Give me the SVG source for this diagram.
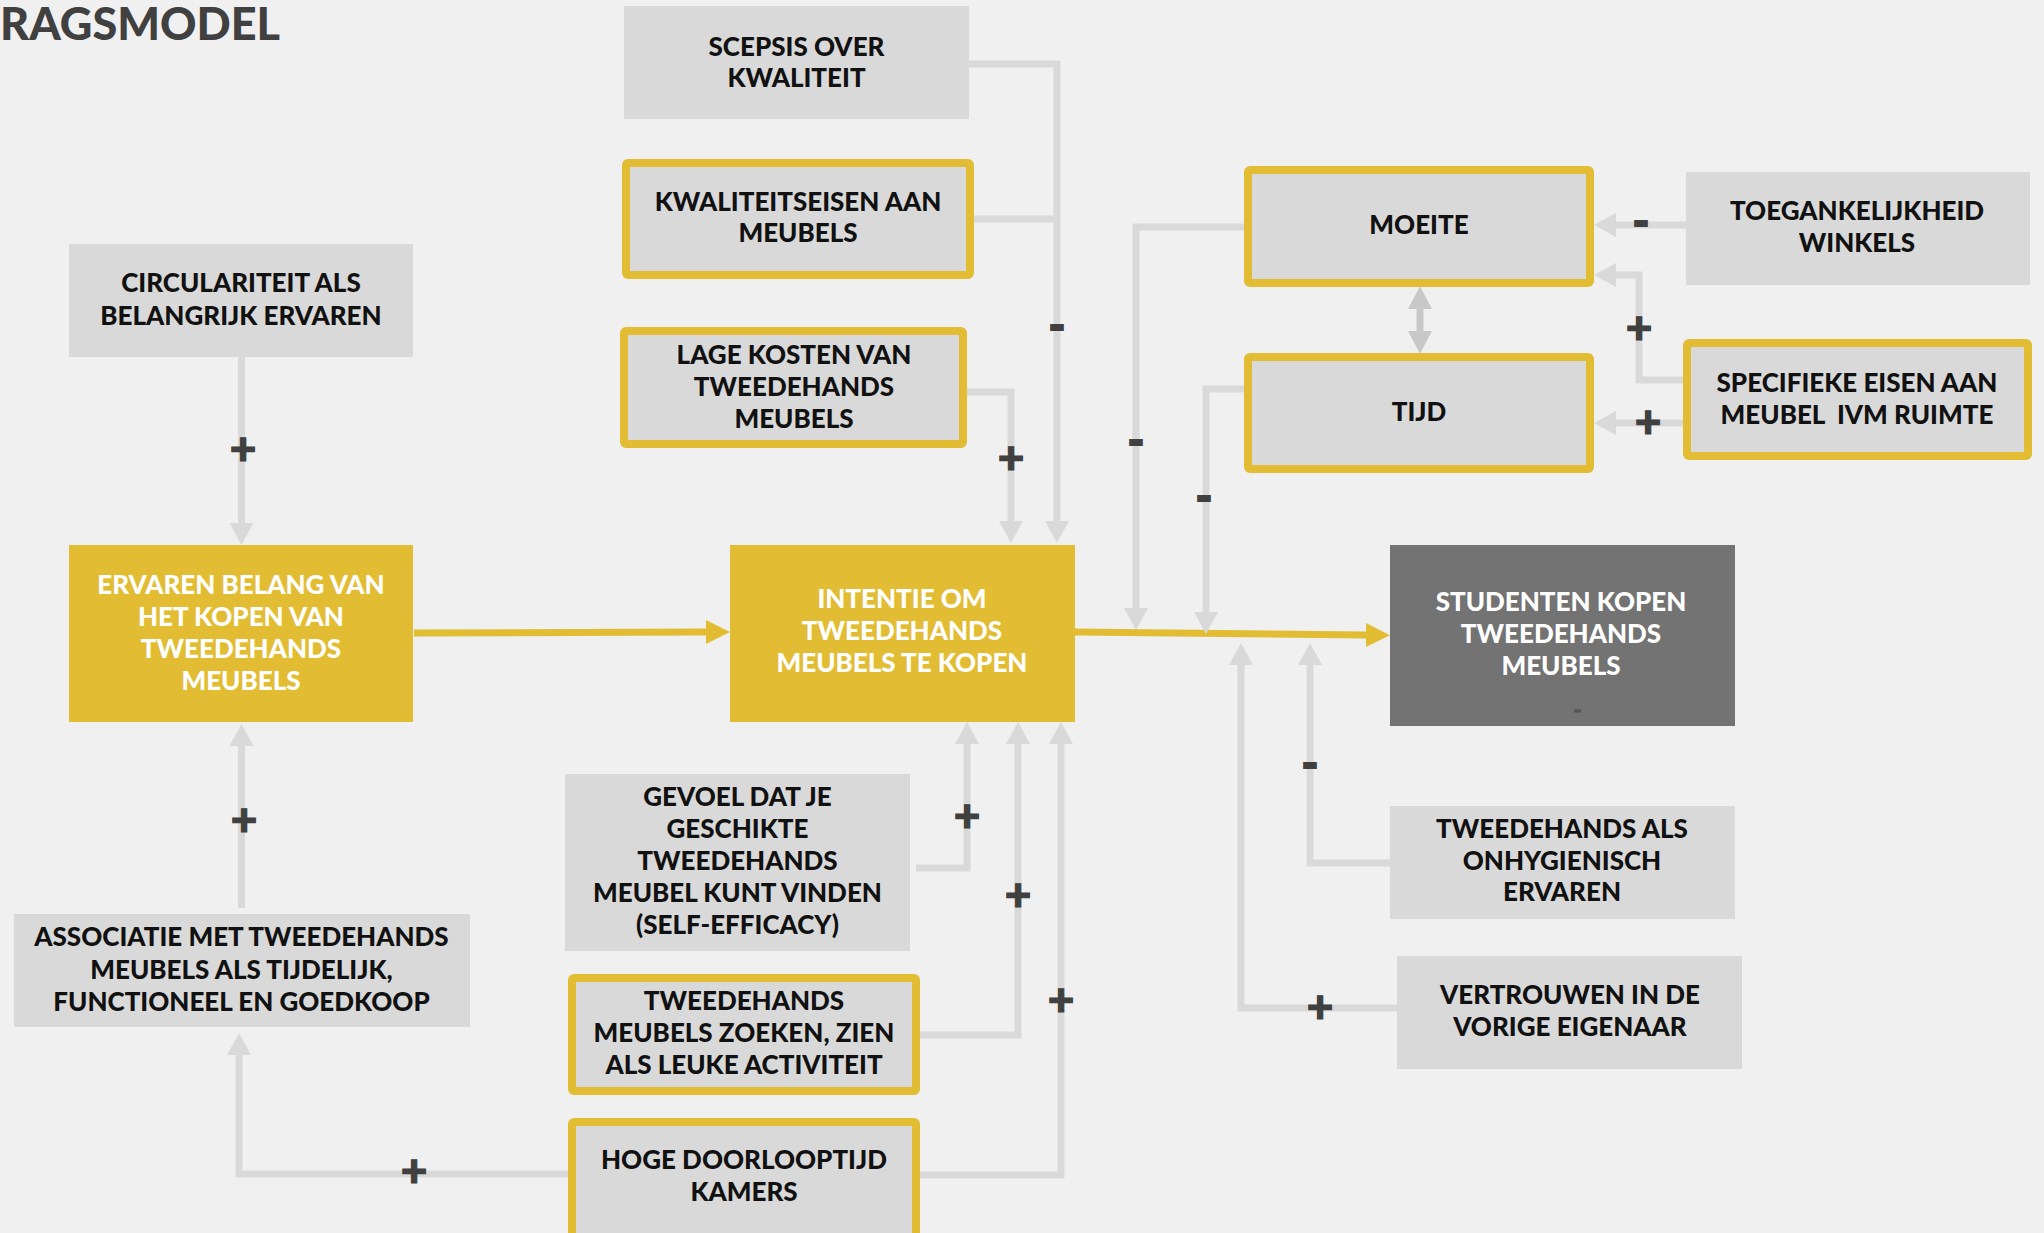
<svg xmlns="http://www.w3.org/2000/svg" width="2044" height="1233" viewBox="0 0 2044 1233">
  <style>
    .bg { fill: #f0f0f0; }
    .box { fill: #d9d9d9; }
    .box-y { fill: #d9d9d9; stroke: #e2bd33; stroke-width: 8; }
    .box-gold { fill: #e2bd33; }
    .box-dark { fill: #737373; }
    .t { font-family: Lato, "Open Sans", sans-serif; font-weight: 900; font-size: 26px; text-anchor: middle; fill: #111111; }
    .tw { fill: #ffffff; }
    .title { font-family: Lato, "Open Sans", sans-serif; font-weight: 900; font-size: 45px; fill: #404040; }
    .wire { fill: none; stroke: #d9d9d9; stroke-width: 7; stroke-linejoin: miter; }
    .wire-y { fill: none; stroke: #e2bd33; stroke-width: 7; }
    .wire-d { fill: none; stroke: #c8c8c8; stroke-width: 7; }
    .sign { font-family: Lato, "Open Sans", sans-serif; font-weight: 900; font-size: 46px; text-anchor: middle; fill: #404040; stroke: #404040; stroke-width: 1.2; }
    .minus { font-family: Lato, "Open Sans", sans-serif; font-weight: 900; font-size: 44px; text-anchor: middle; fill: #404040; stroke: #404040; stroke-width: 2; }
  </style>
  <defs>
    <marker id="ah" markerUnits="userSpaceOnUse" markerWidth="22" markerHeight="24" viewBox="0 0 22 24" refX="0" refY="12" orient="auto">
      <path d="M0,0 L22,12 L0,24 z" fill="#d9d9d9"/>
    </marker>
    <marker id="ahy" markerUnits="userSpaceOnUse" markerWidth="24" markerHeight="24" viewBox="0 0 24 24" refX="0" refY="12" orient="auto">
      <path d="M0,0 L24,12 L0,24 z" fill="#e2bd33"/>
    </marker>
    <marker id="ahd" markerUnits="userSpaceOnUse" markerWidth="23" markerHeight="24" viewBox="0 0 23 24" refX="0" refY="12" orient="auto-start-reverse">
      <path d="M0,0 L23,12 L0,24 z" fill="#c8c8c8"/>
    </marker>
  </defs>

  <rect class="bg" x="0" y="0" width="2044" height="1233"/>

  <text class="title" x="0" y="40">RAGSMODEL</text>

  <!-- connectors and their +/- signs -->
  <g id="connectors">
    <path class="wire" d="M241.5,357 V523" marker-end="url(#ah)"/>
    <path class="wire" d="M241.5,908 V746" marker-end="url(#ah)"/>
    <path class="wire" d="M568,1174 H239 V1055" marker-end="url(#ah)"/>
    <path class="wire-y" d="M414,633 L706,632" marker-end="url(#ahy)"/>
    <path class="wire-y" d="M1074,632 L1366,635" marker-end="url(#ahy)"/>
    <path class="wire" d="M969,64 H1057 V521" marker-end="url(#ah)"/>
    <path class="wire" d="M974,219 H1057"/>
    <path class="wire" d="M967,392 H1011 V521" marker-end="url(#ah)"/>
    <path class="wire" d="M916,868 H967 V744" marker-end="url(#ah)"/>
    <path class="wire" d="M920,1035 H1018 V744" marker-end="url(#ah)"/>
    <path class="wire" d="M920,1175 H1061 V744" marker-end="url(#ah)"/>
    <path class="wire" d="M1245,227 H1136 V608" marker-end="url(#ah)"/>
    <path class="wire" d="M1245,389 H1206 V612" marker-end="url(#ah)"/>
    <path class="wire" d="M1390,863 H1310 V665" marker-end="url(#ah)"/>
    <path class="wire" d="M1397,1008 H1241 V665" marker-end="url(#ah)"/>
    <path class="wire" d="M1686,225 H1616" marker-end="url(#ah)"/>
    <path class="wire" d="M1683,380 H1639 V275 H1616" marker-end="url(#ah)"/>
    <path class="wire" d="M1683,423 H1616" marker-end="url(#ah)"/>
    <path class="wire-d" d="M1420,309 V331" marker-start="url(#ahd)" marker-end="url(#ahd)"/>

    <text class="sign" x="243" y="465">+</text>
    <text class="sign" x="244" y="836">+</text>
    <text class="sign" x="414" y="1187">+</text>
    <text class="minus" x="1057" y="341">-</text>
    <text class="sign" x="1011" y="474">+</text>
    <text class="sign" x="967" y="832">+</text>
    <text class="sign" x="1018" y="911">+</text>
    <text class="sign" x="1061" y="1016">+</text>
    <text class="minus" x="1136" y="456">-</text>
    <text class="minus" x="1204" y="512">-</text>
    <text class="minus" x="1310" y="779">-</text>
    <text class="sign" x="1320" y="1023">+</text>
    <text class="minus" x="1641" y="237">-</text>
    <text class="sign" x="1639" y="344">+</text>
    <text class="sign" x="1648" y="438">+</text>
  </g>

  <g id="node-circulariteit">
    <rect class="box" x="69" y="244" width="344" height="113"/>
    <text class="t" x="241" y="292">CIRCULARITEIT ALS</text>
    <text class="t" x="241" y="325">BELANGRIJK ERVAREN</text>
  </g>

  <g id="node-ervaren-belang">
    <rect class="box-gold" x="69" y="545" width="344" height="177"/>
    <text class="t tw" x="241" y="594">ERVAREN BELANG VAN</text>
    <text class="t tw" x="241" y="626">HET KOPEN VAN</text>
    <text class="t tw" x="241" y="658">TWEEDEHANDS</text>
    <text class="t tw" x="241" y="690">MEUBELS</text>
  </g>

  <g id="node-associatie">
    <rect class="box" x="14" y="914" width="456" height="113"/>
    <text class="t" x="241.5" y="946">ASSOCIATIE MET TWEEDEHANDS</text>
    <text class="t" x="241.5" y="979">MEUBELS ALS TIJDELIJK,</text>
    <text class="t" x="241.5" y="1011">FUNCTIONEEL EN GOEDKOOP</text>
  </g>

  <g id="node-scepsis">
    <rect class="box" x="624" y="6" width="345" height="113"/>
    <text class="t" x="796.5" y="55.5">SCEPSIS OVER</text>
    <text class="t" x="796.5" y="87">KWALITEIT</text>
  </g>

  <g id="node-kwaliteitseisen">
    <rect class="box-y" x="626" y="163" width="344" height="112" rx="2"/>
    <text class="t" x="798" y="210.5">KWALITEITSEISEN AAN</text>
    <text class="t" x="798" y="242">MEUBELS</text>
  </g>

  <g id="node-lage-kosten">
    <rect class="box-y" x="624" y="331" width="339" height="113" rx="2"/>
    <text class="t" x="794" y="363.5">LAGE KOSTEN VAN</text>
    <text class="t" x="794" y="395.5">TWEEDEHANDS</text>
    <text class="t" x="794" y="427.5">MEUBELS</text>
  </g>

  <g id="node-intentie">
    <rect class="box-gold" x="730" y="545" width="345" height="177"/>
    <text class="t tw" x="902" y="608">INTENTIE OM</text>
    <text class="t tw" x="902" y="640">TWEEDEHANDS</text>
    <text class="t tw" x="902" y="672">MEUBELS TE KOPEN</text>
  </g>

  <g id="node-gevoel">
    <rect class="box" x="565" y="774" width="345" height="177"/>
    <text class="t" x="737.5" y="806">GEVOEL DAT JE</text>
    <text class="t" x="737.5" y="838">GESCHIKTE</text>
    <text class="t" x="737.5" y="870">TWEEDEHANDS</text>
    <text class="t" x="737.5" y="902">MEUBEL KUNT VINDEN</text>
    <text class="t" x="737.5" y="934">(SELF-EFFICACY)</text>
  </g>

  <g id="node-zoeken">
    <rect class="box-y" x="572" y="978" width="344" height="113" rx="2"/>
    <text class="t" x="744" y="1009.5">TWEEDEHANDS</text>
    <text class="t" x="744" y="1041.5">MEUBELS ZOEKEN, ZIEN</text>
    <text class="t" x="744" y="1073.5">ALS LEUKE ACTIVITEIT</text>
  </g>

  <g id="node-doorlooptijd">
    <rect class="box-y" x="572" y="1122" width="344" height="130" rx="2"/>
    <text class="t" x="744" y="1169">HOGE DOORLOOPTIJD</text>
    <text class="t" x="744" y="1201">KAMERS</text>
  </g>

  <g id="node-moeite">
    <rect class="box-y" x="1248" y="170" width="342" height="113" rx="2"/>
    <text class="t" x="1419" y="234">MOEITE</text>
  </g>

  <g id="node-tijd">
    <rect class="box-y" x="1248" y="357" width="342" height="112" rx="2"/>
    <text class="t" x="1419" y="421">TIJD</text>
  </g>

  <g id="node-toegankelijkheid">
    <rect class="box" x="1686" y="172" width="344" height="113"/>
    <text class="t" x="1857" y="220">TOEGANKELIJKHEID</text>
    <text class="t" x="1857" y="252">WINKELS</text>
  </g>

  <g id="node-specifieke-eisen">
    <rect class="box-y" x="1687" y="343" width="341" height="113" rx="2"/>
    <text class="t" x="1857" y="392">SPECIFIEKE EISEN AAN</text>
    <text class="t" x="1857" y="424" xml:space="preserve">MEUBEL  IVM RUIMTE</text>
  </g>

  <g id="node-studenten-kopen">
    <rect class="box-dark" x="1390" y="545" width="345" height="181"/>
    <text class="t tw" x="1561" y="611">STUDENTEN KOPEN</text>
    <text class="t tw" x="1561" y="643">TWEEDEHANDS</text>
    <text class="t tw" x="1561" y="675">MEUBELS</text>
    <rect x="1574" y="709.5" width="7" height="3" fill="#555555"/>
  </g>

  <g id="node-onhygienisch">
    <rect class="box" x="1390" y="806" width="345" height="113"/>
    <text class="t" x="1562" y="838">TWEEDEHANDS ALS</text>
    <text class="t" x="1562" y="870">ONHYGIENISCH</text>
    <text class="t" x="1562" y="901">ERVAREN</text>
  </g>

  <g id="node-vertrouwen">
    <rect class="box" x="1397" y="956" width="345" height="113"/>
    <text class="t" x="1570" y="1004">VERTROUWEN IN DE</text>
    <text class="t" x="1570" y="1036">VORIGE EIGENAAR</text>
  </g>
</svg>
